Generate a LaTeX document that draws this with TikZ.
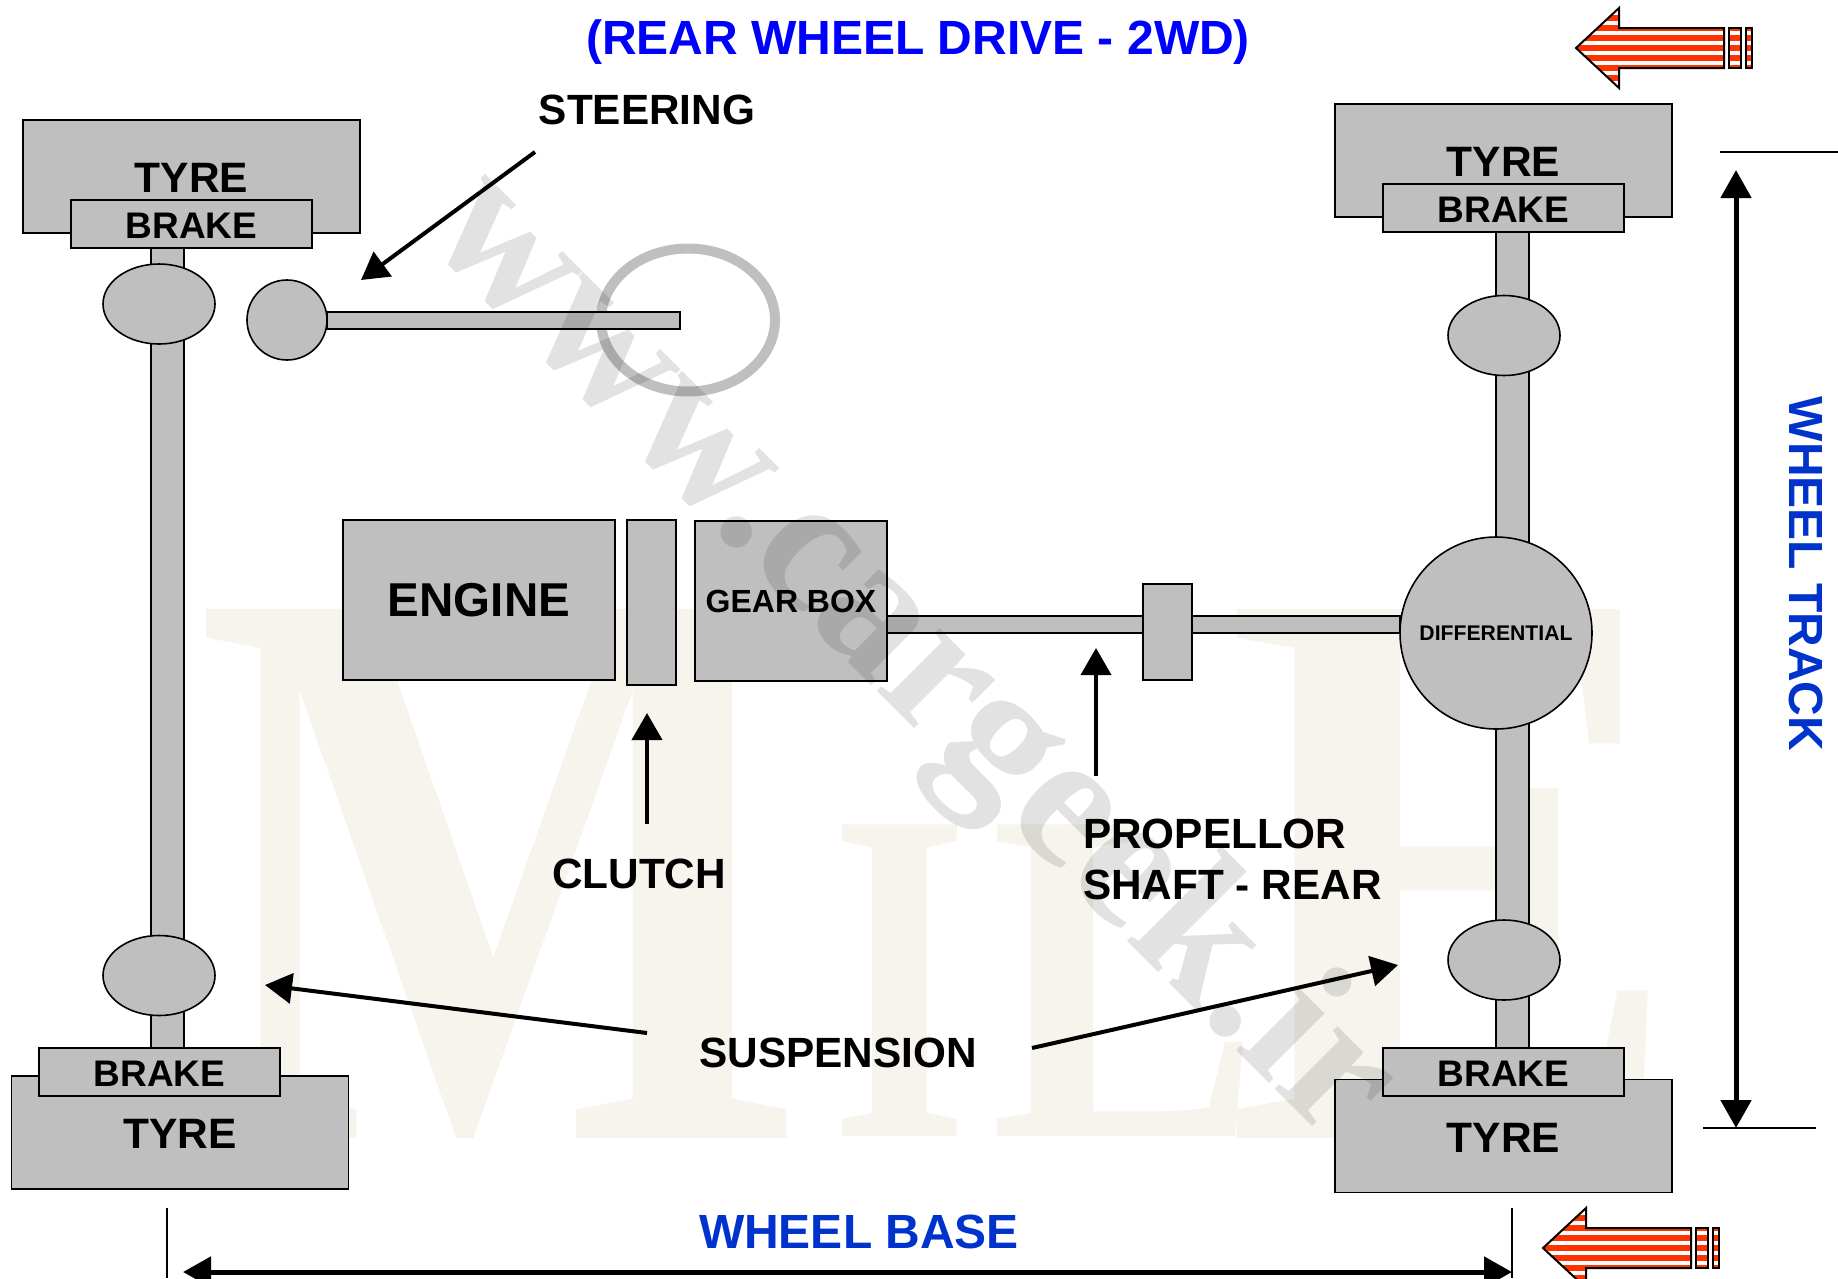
\documentclass[tikz,border=0pt]{standalone}
\usepackage{fontspec}
\setmainfont{Liberation Sans}
\newfontfamily\markfont{Liberation Serif}
\usetikzlibrary{positioning, shapes.geometric, arrows.meta}

\begin{document}
\begin{tikzpicture}[x=1pt, y=-1pt,
    part/.style={draw=black, line width=1.6pt, fill=cPart, inner sep=0pt, font=\bfseries},
    rod/.style={part},
    tyre/.style={part, minimum width=337pt, minimum height=113pt, text height=32.5pt, font=\bfseries\fontsize{42.5pt}{50pt}\selectfont},
    brake/.style={part, minimum width=241pt, minimum height=48pt, text height=29pt, font=\bfseries\fontsize{37pt}{42pt}\selectfont},
    joint/.style={part, ellipse, minimum width=112pt, minimum height=80pt},
    lab/.style={inner sep=0pt, font=\bfseries\fontsize{42.3pt}{51pt}\selectfont},
    dimlab/.style={inner sep=0pt, text=cDim, font=\bfseries\fontsize{48pt}{54pt}\selectfont},
    backmark/.style={inner sep=0pt, text=cMark, font=\markfont\bfseries\fontsize{#1pt}{#1pt}\selectfont},
    callout/.style={line width=4pt, -{Triangle[length=27pt, width=30pt]}},
    dimline/.style={line width=5pt, {Triangle[length=28pt, width=30pt]}-{Triangle[length=28pt, width=30pt]}},
    tick/.style={line width=1.6pt},
    stripearrow/.pic={
        \begin{scope}
        \clip (0,0) -- (43,-40) -- (43,-20) -- (148,-20) -- (148,20) -- (43,20) -- (43,40) -- cycle
              (153,-20) rectangle (165,20) (170,-20) rectangle (176,20);
        \fill[white] (0,-40) rectangle (176,40);
        \foreach \s in {-40,-30,...,40} {
            \fill[cStripe] (0,\s-2.8) rectangle (176,\s+2.8);
        }
        \end{scope}
        \draw[line width=2pt, line join=miter] (0,0) -- (43,-40) -- (43,-20) -- (148,-20) -- (148,20) -- (43,20) -- (43,40) -- cycle;
        \draw[line width=2pt] (153,-20) rectangle (165,20);
        \draw[line width=2pt] (170,-20) rectangle (176,20);
    }]

\definecolor{cPart}{HTML}{BFBFBF}
\definecolor{cTitle}{HTML}{0000FF}
\definecolor{cDim}{HTML}{0033CC}
\definecolor{cMark}{HTML}{F7F4EE}
\definecolor{cStripe}{HTML}{FF3300}

\useasboundingbox (0,0) rectangle (1838,1278);

% Letters behind everything
\node[backmark=808, anchor=base, xscale=0.8] (markM) at (501,1138) {M};
\node[backmark=476, anchor=base, xscale=0.75] (markI) at (900,1136) {I};
\node[backmark=476, anchor=base, xscale=0.85] (markL) at (1125,1136) {L};
\node[backmark=808, anchor=base, xscale=0.85] (markE) at (1455,1138) {E};

% Steering wheel ring, under the rod
\node[ellipse, draw=cPart, line width=10pt, minimum width=174pt, minimum height=143pt, inner sep=0pt] (wheelring) at (688,320) {};

% Shafts
\node[rod, minimum width=33pt, minimum height=800pt] (axleL) at (167.5,648) {};
\node[rod, minimum width=33pt, minimum height=816pt] (axleR) at (1512.5,640) {};
\node[rod, minimum width=353pt, minimum height=17pt] (steerrod) at (503.5,320.5) {};
\node[rod, minimum width=513pt, minimum height=17pt] (propshaft) at (1143.5,624.5) {};

% Tyres and brakes
\node[tyre] (tyreTL) at (191.5,176.5) {TYRE};
\node[brake] (brakeTL) at (191.5,224) {BRAKE};
\node[tyre] (tyreTR) at (1503.5,160.5) {TYRE};
\node[brake] (brakeTR) at (1503.5,208) {BRAKE};
\node[tyre] (tyreBL) at (180,1132.5) {TYRE};
\node[brake] (brakeBL) at (159.5,1072) {BRAKE};
\node[tyre] (tyreBR) at (1503.5,1136) {TYRE};
\node[brake] (brakeBR) at (1503.5,1072) {BRAKE};

% Suspension and steering balls
\node[joint] (jointTL) at (159,304) {};
\node[joint] (jointBL) at (159,975.5) {};
\node[joint] (jointTR) at (1504,335.5) {};
\node[joint] (jointBR) at (1504,960) {};
\node[part, ellipse, minimum width=80pt, minimum height=80pt] (steerball) at (287,320) {};

% Drive line
\node[part, minimum width=272pt, minimum height=160pt, font=\bfseries\fontsize{47.5pt}{50pt}\selectfont] (engine) at (479,600) {ENGINE};
\node[part, minimum width=49pt, minimum height=165pt] (clutch) at (651.5,602.5) {};
\node[part, minimum width=192pt, minimum height=160pt, font=\bfseries\fontsize{32pt}{36pt}\selectfont] (gearbox) at (791,601) {GEAR BOX};
\node[part, minimum width=49pt, minimum height=96pt] (propjoint) at (1167.5,632) {};
\node[part, circle, minimum size=192pt, font=\bfseries\fontsize{21.2pt}{24pt}\selectfont] (diff) at (1496,633) {DIFFERENTIAL};

% Labels
\node[inner sep=0pt, text=cTitle, font=\bfseries\fontsize{48pt}{54pt}\selectfont] (title) at (918,42) {(REAR WHEEL DRIVE - 2WD)};
\node[lab] (steerlab) at (647,110) {STEERING};
\node[lab] (clutchlab) at (639,874) {CLUTCH};
\node[lab, anchor=west, align=left] (proplab) at (1083,859) {PROPELLOR\\SHAFT - REAR};
\node[lab] (susplab) at (838,1053) {SUSPENSION};
\node[dimlab] (baselab) at (859,1232) {WHEEL BASE};
\node[dimlab, rotate=-90] (tracklab) at (1806,574) {WHEEL TRACK};

% Callouts
\coordinate (steerA) at (535,152);
\coordinate (steerB) at (361,280);
\coordinate (clutchA) at (647,824);
\coordinate (clutchB) at (647,713);
\coordinate (propA) at (1096,776);
\coordinate (propB) at (1096,648);
\coordinate (suspLA) at (647,1033);
\coordinate (suspLB) at (265,985);
\coordinate (suspRA) at (1032,1048);
\coordinate (suspRB) at (1398,965);
\draw[callout] (steerA) -- (steerB);
\draw[callout] (clutchA) -- (clutchB);
\draw[callout] (propA) -- (propB);
\draw[callout] (suspLA) -- (suspLB);
\draw[callout] (suspRA) -- (suspRB);

% Dimensions
\coordinate (trackT) at (1736,170);
\coordinate (trackB) at (1736,1128);
\coordinate (baseL) at (183,1272);
\coordinate (baseR) at (1512,1272);
\draw[dimline] (trackT) -- (trackB);
\draw[dimline] (baseL) -- (baseR);
\coordinate (tickTA) at (1720,152);
\coordinate (tickTB) at (1838,152);
\coordinate (tickBA) at (1703,1128);
\coordinate (tickBB) at (1816,1128);
\coordinate (tickLA) at (167,1208);
\coordinate (tickLB) at (167,1278);
\coordinate (tickRA) at (1512,1208);
\coordinate (tickRB) at (1512,1278);
\draw[tick] (tickTA) -- (tickTB);
\draw[tick] (tickBA) -- (tickBB);
\draw[tick] (tickLA) -- (tickLB);
\draw[tick] (tickRA) -- (tickRB);

% Striped arrows
\pic at (1576,48) {stripearrow};
\pic at (1543,1248) {stripearrow};

% Site name across the page
\node[inner sep=0pt, anchor=base, rotate=-45, text opacity=0.115, font=\markfont\bfseries\fontsize{193pt}{193pt}\selectfont] (sitemark) at (877,691) {www.cargeek.ir};

\end{tikzpicture}
\end{document}
